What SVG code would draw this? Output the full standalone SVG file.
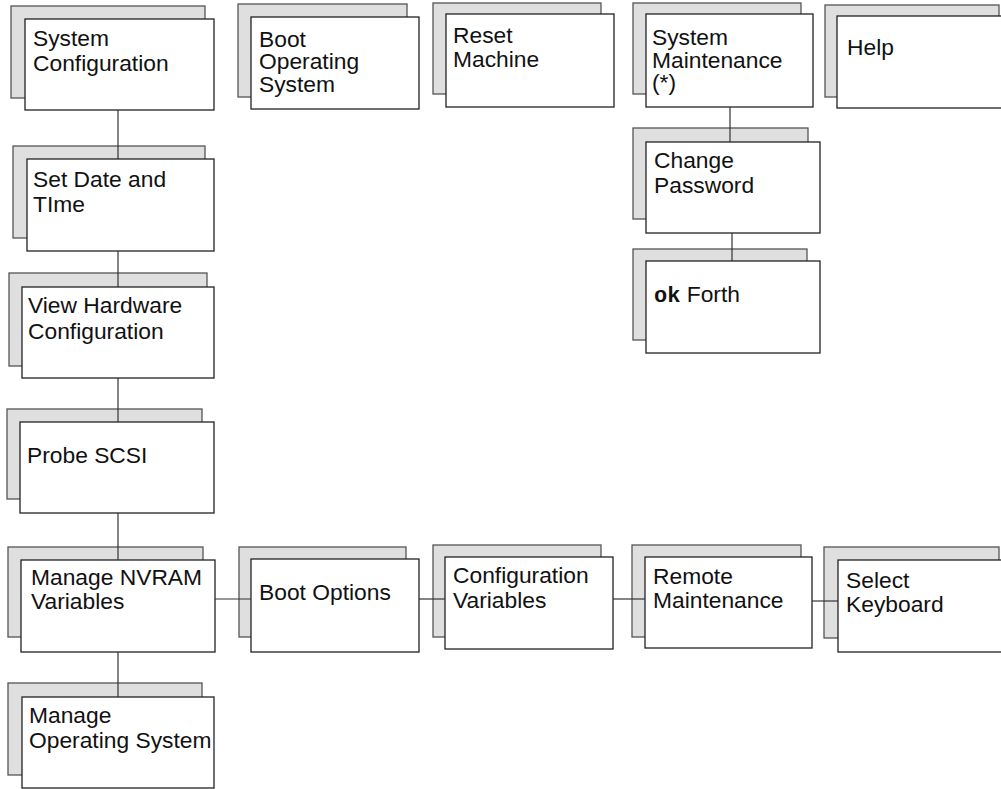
<svg xmlns="http://www.w3.org/2000/svg" width="1001" height="789" viewBox="0 0 1001 789">
<style>
.bk{fill:#dfdfdf;stroke:#555;stroke-width:1.3}
.fr{fill:#fff;stroke:#222;stroke-width:1.3}
.t{font-family:"Liberation Sans",Arial,sans-serif;font-size:22.8px;fill:#111}
.m{font-family:"Liberation Mono","Courier New",monospace;font-weight:bold;font-size:22px}
.c{stroke:#333;stroke-width:1.2;fill:none}
</style>
<rect width="1001" height="789" fill="#fff"/>
<g id="sysconfig"><rect class="bk" x="11" y="6" width="194" height="92"/><rect class="fr" x="25" y="19" width="189" height="91"/><text class="t" x="33" y="46">System</text><text class="t" x="33" y="71">Configuration</text></g>
<g id="setdate"><rect class="bk" x="13" y="146" width="192" height="92"/><rect class="fr" x="27" y="159" width="187" height="92"/><text class="t" x="33" y="187">Set Date and</text><text class="t" x="33" y="212">TIme</text></g>
<g id="viewhw"><rect class="bk" x="9" y="273" width="198" height="93"/><rect class="fr" x="22" y="287" width="192" height="91"/><text class="t" x="28" y="313">View Hardware</text><text class="t" x="28" y="339">Configuration</text></g>
<g id="probe"><rect class="bk" x="7" y="409" width="195" height="90"/><rect class="fr" x="20" y="422" width="194" height="91"/><text class="t" x="27" y="463">Probe SCSI</text></g>
<g id="nvram"><rect class="bk" x="8" y="547" width="195" height="90"/><rect class="fr" x="21" y="560" width="194" height="92"/><text class="t" x="31" y="585">Manage NVRAM</text><text class="t" x="31" y="609">Variables</text></g>
<g id="manageos"><rect class="bk" x="8" y="683" width="194" height="92"/><rect class="fr" x="22" y="697" width="192" height="91"/><text class="t" x="29" y="723">Manage</text><text class="t" x="29" y="748">Operating System</text></g>
<g id="bootos"><rect class="bk" x="238" y="4" width="169" height="93"/><rect class="fr" x="251" y="17" width="168" height="92"/><text class="t" x="259" y="47">Boot</text><text class="t" x="259" y="69">Operating</text><text class="t" x="259" y="92">System</text></g>
<g id="reset"><rect class="bk" x="433" y="3" width="168" height="91"/><rect class="fr" x="446" y="14" width="168" height="93"/><text class="t" x="453" y="43">Reset</text><text class="t" x="453" y="67">Machine</text></g>
<g id="sysmaint"><rect class="bk" x="633" y="3" width="168" height="91"/><rect class="fr" x="646" y="14" width="167" height="93"/><text class="t" x="652" y="45">System</text><text class="t" x="652" y="68">Maintenance</text><text class="t" x="652" y="90">(*)</text></g>
<g id="help"><rect class="bk" x="825" y="5" width="174" height="92"/><rect class="fr" x="837" y="16" width="170" height="92"/><text class="t" x="847" y="55">Help</text></g>
<g id="changepw"><rect class="bk" x="633" y="128" width="175" height="91"/><rect class="fr" x="646" y="142" width="174" height="91"/><text class="t" x="654" y="168">Change</text><text class="t" x="654" y="193">Password</text></g>
<g id="okforth"><rect class="bk" x="633" y="249" width="174" height="91"/><rect class="fr" x="646" y="261" width="174" height="92"/><text class="t" x="654" y="302"><tspan class="m">ok</tspan> Forth</text></g>
<g id="bootoptions"><rect class="bk" x="239" y="547" width="167" height="90"/><rect class="fr" x="251" y="559" width="168" height="93"/><text class="t" x="259" y="600">Boot Options</text></g>
<g id="configvars"><rect class="bk" x="433" y="545" width="168" height="92"/><rect class="fr" x="445" y="557" width="168" height="92"/><text class="t" x="453" y="583">Configuration</text><text class="t" x="453" y="608">Variables</text></g>
<g id="remote"><rect class="bk" x="632" y="545" width="169" height="92"/><rect class="fr" x="645" y="557" width="167" height="91"/><text class="t" x="653" y="584">Remote</text><text class="t" x="653" y="608">Maintenance</text></g>
<g id="selectkb"><rect class="bk" x="824" y="547" width="175" height="91"/><rect class="fr" x="838" y="560" width="170" height="92"/><text class="t" x="846" y="588">Select</text><text class="t" x="846" y="612">Keyboard</text></g>
<g id="connectors">
<line class="c" x1="118" y1="110" x2="118" y2="159"/>
<line class="c" x1="118" y1="251" x2="118" y2="287"/>
<line class="c" x1="118" y1="378" x2="118" y2="422"/>
<line class="c" x1="118" y1="513" x2="118" y2="560"/>
<line class="c" x1="118" y1="652" x2="118" y2="697"/>
<line class="c" x1="730" y1="107" x2="730" y2="142"/>
<line class="c" x1="732" y1="233" x2="732" y2="261"/>
<line class="c" x1="215" y1="599" x2="251" y2="599"/>
<line class="c" x1="419" y1="599" x2="445" y2="599"/>
<line class="c" x1="613" y1="599" x2="645" y2="599"/>
<line class="c" x1="812" y1="601" x2="838" y2="601"/>
</g>
</svg>
